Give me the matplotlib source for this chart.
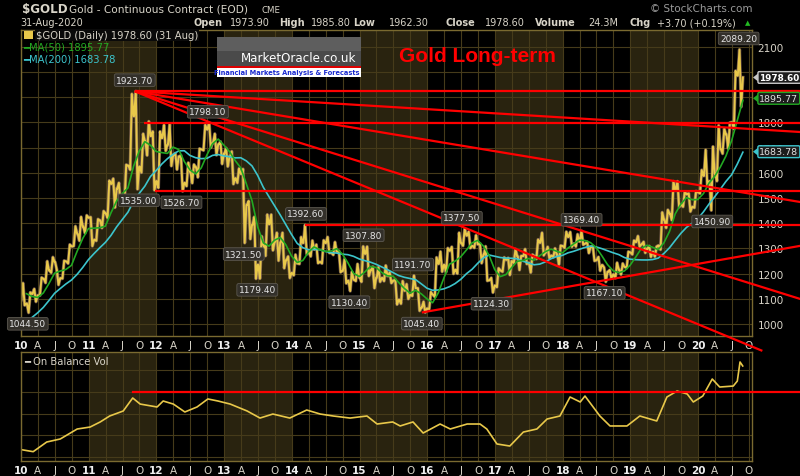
import numpy as np
import pandas as pd
import matplotlib
matplotlib.use("Agg")
import matplotlib.pyplot as plt
from matplotlib.patches import Rectangle, Polygon

# monthly gold futures, Jan 2010 .. Aug 2020
highs = [1162, 1125, 1139, 1184, 1249, 1265, 1215, 1251, 1315, 1388, 1425, 1431,
         1424, 1416, 1448, 1569, 1577, 1560, 1632, 1913, 1923.7, 1755, 1804, 1764,
         1764, 1790, 1793, 1678, 1669, 1640, 1633, 1696, 1790, 1798.1, 1755, 1724,
         1698, 1685, 1617, 1615, 1488, 1425, 1348, 1434, 1434, 1362, 1362, 1268,
         1275, 1345, 1392.6, 1331, 1315, 1332, 1345, 1325, 1290, 1256, 1207, 1238,
         1307.8, 1307, 1227, 1225, 1232, 1204, 1175, 1170, 1158, 1191.7, 1142, 1088,
         1127, 1264, 1287, 1301, 1306, 1362, 1377.5, 1366, 1352, 1319, 1308, 1183,
         1221, 1264, 1262, 1297, 1270, 1297, 1275, 1335, 1362, 1306, 1300, 1311,
         1366, 1365, 1356, 1369.4, 1326, 1309, 1266, 1224, 1214, 1243, 1240, 1287,
         1331, 1349, 1326, 1309, 1307, 1443, 1453, 1566, 1566, 1525, 1518, 1527,
         1611, 1691, 1704, 1788, 1775, 1799, 2005, 2089.2]
lows = [1074, 1044.5, 1088, 1113, 1163, 1203, 1155, 1180, 1240, 1309, 1330, 1360,
        1309, 1330, 1381, 1421, 1462, 1477, 1482, 1612, 1535, 1601, 1669, 1531,
        1540, 1687, 1627, 1613, 1526.7, 1547, 1559, 1582, 1689, 1700, 1670, 1635,
        1625, 1555, 1560, 1321.5, 1337, 1179.4, 1180, 1270, 1292, 1251, 1221, 1182,
        1193, 1238, 1277, 1268, 1241, 1240, 1282, 1274, 1205, 1161, 1130.4, 1170,
        1167, 1190, 1142, 1167, 1170, 1162, 1077, 1080, 1099, 1111, 1052, 1045.4,
        1059, 1107, 1207, 1206, 1199, 1200, 1310, 1301, 1302, 1241, 1171, 1124.3,
        1146, 1207, 1194, 1242, 1214, 1238, 1204, 1258, 1272, 1261, 1265, 1236,
        1302, 1306, 1307, 1314, 1281, 1250, 1211, 1167.1, 1181, 1182, 1196, 1222,
        1276, 1307, 1282, 1266, 1267, 1295, 1381, 1412, 1464, 1465, 1446, 1461,
        1518, 1547, 1450.9, 1567, 1676, 1696, 1774, 1862]
closes = [1081.0, 1118.9, 1113.3, 1179.3, 1212.2, 1245.5, 1181.7, 1248.3, 1307.8, 1357.6, 1386.1, 1421.4,
          1333.8, 1411.0, 1439.0, 1556.0, 1536.6, 1502.3, 1628.3, 1825.0, 1624.1, 1725.0, 1746.0, 1566.8,
          1738.0, 1711.3, 1669.3, 1664.8, 1560.1, 1604.2, 1622.1, 1692.7, 1772.1, 1719.1, 1712.7, 1675.8,
          1663.3, 1578.4, 1595.7, 1472.1, 1393.1, 1234.5, 1312.4, 1396.1, 1327.0, 1323.6, 1253.0, 1202.3,
          1240.1, 1321.4, 1283.8, 1295.9, 1246.0, 1321.3, 1281.7, 1286.9, 1210.5, 1171.6, 1175.2, 1184.1,
          1278.5, 1212.6, 1183.1, 1182.4, 1190.4, 1171.9, 1095.4, 1132.0, 1114.8, 1141.9, 1064.6, 1061.1,
          1116.4, 1238.4, 1234.2, 1290.6, 1214.7, 1321.7, 1350.5, 1309.6, 1316.1, 1274.7, 1173.3, 1152.1,
          1211.9, 1254.6, 1249.2, 1268.3, 1269.4, 1242.3, 1269.1, 1322.3, 1284.8, 1271.1, 1275.3, 1309.3,
          1345.2, 1318.3, 1327.3, 1318.6, 1305.3, 1253.2, 1233.6, 1206.7, 1195.8, 1215.0, 1226.1, 1283.7,
          1325.2, 1316.1, 1298.5, 1286.2, 1311.1, 1413.7, 1437.8, 1529.4, 1472.9, 1514.8, 1464.6, 1523.1,
          1587.9, 1566.7, 1596.6, 1694.2, 1751.7, 1800.5, 1985.9, 1978.6]
# Mar..Dec 2009 monthly mid prices, used to warm up the moving averages
warmup_2009 = [925, 893, 930, 945, 935, 950, 995, 1045, 1130, 1125]
dec_2009_close = 1096.2

# swing labels: date (decimal year), value, above/below
swing_t = [2010.10, 2011.68, 2011.74, 2012.37, 2012.76, 2013.29, 2013.49, 2014.21, 2014.85,
           2015.06, 2015.79, 2015.92, 2016.51, 2016.95, 2018.28, 2018.62, 2020.21, 2020.60]
swing_v = [1044.50, 1923.70, 1535.00, 1526.70, 1798.10, 1321.50, 1179.40, 1392.60, 1130.40,
           1307.80, 1191.70, 1045.40, 1377.50, 1124.30, 1369.40, 1167.10, 1450.90, 2089.20]
swing_up = [False, True, False, False, True, False, False, True, False,
            True, True, False, True, False, True, False, False, True]

# red trend lines: (start date, start price, end date, end price)
trend_x0 = [2011.68, 2011.68, 2011.82, 2011.68, 2011.98, 2011.68, 2011.68, 2014.19, 2015.92]
trend_y0 = [1923.7, 1923.7, 1798.1, 1923.7, 1526.7, 1923.7, 1923.7, 1392.6, 1045.4]
trend_x1 = [2021.51, 2021.51, 2021.51, 2021.51, 2021.51, 2021.51, 2020.95, 2021.51, 2021.51]
trend_y1 = [1923.7, 1762.0, 1798.1, 1484.0, 1526.7, 1099.0, 893.0, 1392.6, 1310.0]

# on balance volume (relative units)
obv_t = [2010.01, 2010.18, 2010.38, 2010.58, 2010.83, 2011.02, 2011.17, 2011.31, 2011.51, 2011.65,
         2011.76, 2012.01, 2012.10, 2012.25, 2012.42, 2012.60, 2012.76, 2012.91, 2013.09, 2013.34,
         2013.53, 2013.72, 2013.97, 2014.22, 2014.42, 2014.61, 2014.86, 2015.11, 2015.26, 2015.49,
         2015.60, 2015.79, 2015.94, 2016.19, 2016.34, 2016.59, 2016.78, 2016.88, 2017.03, 2017.22,
         2017.42, 2017.62, 2017.77, 2017.96, 2018.11, 2018.26, 2018.33, 2018.55, 2018.70, 2018.95,
         2019.14, 2019.39, 2019.54, 2019.69, 2019.84, 2019.93, 2020.07, 2020.21, 2020.32, 2020.52,
         2020.58, 2020.62, 2020.66]
obv_v = [6.7, 4.9, 13.8, 16.6, 25.8, 27.6, 32.3, 37.8, 42.4, 54.4,
         48.8, 46.1, 51.6, 48.8, 41.5, 46.1, 53.5, 51.6, 48.8, 42.4,
         35.9, 39.6, 35.9, 43.3, 39.6, 37.8, 35.9, 37.8, 30.4, 32.3,
         28.6, 32.3, 22.1, 30.4, 25.8, 30.4, 30.4, 25.8, 12.0, 10.1,
         23.0, 25.8, 35.0, 37.8, 55.3, 50.7, 56.2, 37.8, 28.6, 28.6,
         37.8, 33.2, 55.3, 60.8, 58.1, 50.7, 56.2, 71.9, 64.5, 65.4,
         70.0, 87.6, 83.9]
obv_level = 60

year_labels = [str(y % 100) for y in range(2010, 2021)]
price_ticks = list(range(1000, 2101, 100))
# 2000 and 1900 sit behind the last-value tags on the right
price_tick_labels = ['' if p in (1900, 2000) else str(p) for p in price_ticks]

BG = '#000000'
SHADE = '#29230f'
GRID = '#463b1a'
FRAME = '#7a6a30'
TXT = '#d8d4c8'
GOLD = '#e8c84a'
GREEN = '#22a822'
CYAN = '#3cc4cc'
RED = '#ff0000'

fig = plt.figure(figsize=(8, 4.77), dpi=100, facecolor=BG)
W, H = 800, 477


def fx(px):
    return px / W


def fy(py):
    return 1 - py / H


ax = fig.add_axes([fx(21), fy(337), 731 / W, 306 / H], facecolor=BG)
ax2 = fig.add_axes([fx(21), fy(462), 731 / W, 109 / H], facecolor=BG)
x_min, x_max = 2010.0, 2020.797
quarters = np.arange(2010, 2020.8, 0.25)
q_labels = []
for q in quarters:
    m = int(round((q - int(q)) * 4))
    q_labels.append(year_labels[int(q) - 2010] if m == 0 else 'AJO'[m - 1])

for a in (ax, ax2):
    a.set_xlim(x_min, x_max)
    for yr in range(2011, 2021, 2):
        a.axvspan(yr, yr + 1, color=SHADE, zorder=0, lw=0)
    a.set_xticks(quarters)
    a.set_xticklabels(q_labels)
    a.tick_params(axis='x', length=0, labelsize=7.5, colors=TXT, pad=3)
    for lbl in a.get_xticklabels():
        if lbl.get_text().isdigit():
            lbl.set_fontweight('bold')
            lbl.set_color('#f0f0f0')
    a.grid(True, color=GRID, lw=0.8, zorder=0.5)
    a.set_axisbelow(True)
    for s in a.spines.values():
        s.set_color(FRAME)
        s.set_linewidth(1.0)

# main price panel
ax.set_ylim(952, 2167)
ax.set_yticks(price_ticks)
ax.set_yticklabels(price_tick_labels)
ax.yaxis.tick_right()
ax.tick_params(axis='y', length=0, labelsize=7.5, colors=TXT, pad=4)

n = len(closes)
opens = [dec_2009_close] + closes[:-1]
zt, zp = [], []
for i in range(n):
    t0 = 2010 + i / 12
    o, h, l, c = opens[i], highs[i], lows[i], closes[i]
    seq = [o, l, h, c] if c >= o else [o, h, l, c]
    zt += [t0 + f / 12 for f in (0.05, 0.35, 0.65, 0.95)]
    zp += seq
ax.plot(zt, zp, color='#b08878', lw=2.4, zorder=1.8, alpha=0.6)
ax.plot(zt, zp, color=GOLD, lw=1.4, zorder=2)

mid = (np.array(highs) + np.array(lows) + np.array(closes)) / 3
full = pd.Series(list(warmup_2009) + list(mid))
ma50 = full.rolling(3).mean().values[-n:]
ma200 = full.rolling(10).mean().values[-n:]
mt = [2010 + i / 12 + 0.95 / 12 for i in range(n)]
ax.plot(mt, ma200, color=CYAN, lw=1.2, zorder=3)
ax.plot(mt, ma50, color=GREEN, lw=1.2, zorder=3)

for x0, y0, x1, y1 in zip(trend_x0, trend_y0, trend_x1, trend_y1):
    ax.plot([x0, x1], [y0, y1], color=RED, lw=1.6, clip_on=False, zorder=6,
            solid_capstyle='butt')

for t, v, up in zip(swing_t, swing_v, swing_up):
    ax.annotate(f'{v:.2f}', xy=(t, v), xytext=(0, 8 if up else -8),
                textcoords='offset points', ha='center', va='center',
                fontsize=6.5, color='#e6e6e6', zorder=7,
                bbox=dict(boxstyle='round,pad=0.2', fc='#33302a', ec='#5c5850', lw=0.6))

tr = ax.get_yaxis_transform()
tags = [(closes[-1], '#ffffff', '#1c1c1c', '#c8c8c8', 'bold', 6.4),
        (1895.77, '#e0e0e0', '#1c1c1c', GREEN, 'normal', 6.8),
        (1683.78, '#e0e0e0', '#1c1c1c', CYAN, 'normal', 6.8)]
for v, tc, fc, ec, fw, fs in tags:
    ax.text(1.010, v, f'{v:.2f}', transform=tr, ha='left', va='center',
            fontsize=fs, color=tc, fontweight=fw, zorder=8, clip_on=False,
            bbox=dict(boxstyle='round,pad=0.15', fc=fc, ec=ec, lw=1.0))
    # small pointer on the left of the tag
    py = ax.transData.transform((x_max, v))[1]
    fig.patches.append(Polygon([(fx(753), py / H), (fx(758), py / H + 4 / H),
                                (fx(758), py / H - 4 / H)], closed=True,
                               transform=fig.transFigure, fc=ec, ec='none', zorder=8))

# OBV panel
ax2.set_ylim(-3.7, 96.8)
ax2.set_yticks([0, 20, 40, 60, 80])
ax2.tick_params(axis='y', length=0, labelright=False, labelleft=False)
ax2.plot(obv_t, obv_v, color=GOLD, lw=1.2, zorder=2)
ax2.plot([2011.65, 2021.51], [obv_level, obv_level], color=RED, lw=1.6,
         clip_on=False, zorder=6)

# header
fig.text(fx(22), fy(10), '$GOLD', fontsize=8.6, fontweight='bold', color=TXT, va='center')
fig.text(fx(69), fy(10), 'Gold - Continuous Contract (EOD)', fontsize=7.6, color=TXT, va='center')
fig.text(fx(262), fy(10.5), 'CME', fontsize=6.2, color=TXT, va='center')
fig.text(fx(752), fy(9), '\u00a9 StockCharts.com', fontsize=7.5, color='#9a9a9a',
         va='center', ha='right')
fig.text(fx(20), fy(23), '31-Aug-2020', fontsize=7, color=TXT, va='center')
hdr = [(193, 'Open', True), (230, '1973.90', False), (279, 'High', True),
       (311, '1985.80', False), (353, 'Low', True), (389, '1962.30', False),
       (445, 'Close', True), (485, '1978.60', False), (535, 'Volume', True),
       (588, '24.3M', False), (629, 'Chg', True), (657, '+3.70 (+0.19%)', False)]
for px, s, b in hdr:
    fig.text(fx(px), fy(23), s, fontsize=7, color=TXT, va='center',
             fontweight='bold' if b else 'normal')
fig.text(fx(748), fy(23), '\u25b2', fontsize=5, color='#22bb22', va='center', ha='center')

# in-panel legend
fig.patches.append(Rectangle((fx(24), fy(40)), 9 / W, 8 / H, transform=fig.transFigure,
                             fc=GOLD, ec='none', zorder=9))
fig.text(fx(36), fy(36), '$GOLD (Daily) 1978.60 (31 Aug)', fontsize=7.2, color=TXT,
         va='center', zorder=9, bbox=dict(fc='#0a0a0a', ec='none', pad=0.5))
fig.text(fx(23), fy(47.5), '\u2501MA(50) 1895.77', fontsize=7.2, color=GREEN, va='center', zorder=9)
fig.text(fx(23), fy(59), '\u2501MA(200) 1683.78', fontsize=7.2, color=CYAN, va='center', zorder=9)
fig.text(fx(24), fy(362), '\u2501 On Balance Vol', fontsize=7.2, color=TXT, va='center', zorder=9)

# MarketOracle badge
fig.patches.append(Rectangle((fx(217), fy(67)), 144 / W, 29 / H, transform=fig.transFigure,
                             fc='#4a4a4a', ec='none', zorder=9))
fig.patches.append(Rectangle((fx(217), fy(52)), 144 / W, 14 / H, transform=fig.transFigure,
                             fc='#5e5e5e', ec='none', zorder=9))
fig.patches.append(Rectangle((fx(217), fy(69)), 144 / W, 2 / H, transform=fig.transFigure,
                             fc='#dd0000', ec='none', zorder=9))
fig.patches.append(Rectangle((fx(217), fy(78)), 144 / W, 9 / H, transform=fig.transFigure,
                             fc='#ffffff', ec='none', zorder=9))
fig.text(fx(299), fy(59), 'MarketOracle.co.uk', fontsize=8.6, color='#ffffff', ha='center',
         va='center', zorder=10)
fig.text(fx(287), fy(73.5), 'Financial Markets Analysis & Forecasts', fontsize=4.8,
         color='#1a2ad0', fontweight='bold', ha='center', va='center', zorder=10)

fig.text(fx(477), fy(56), 'Gold Long-term', fontsize=15, color=RED, fontweight='bold',
         family='Liberation Sans', ha='center', va='center', zorder=10)

fig.savefig('out.png', dpi=100, facecolor=BG)
